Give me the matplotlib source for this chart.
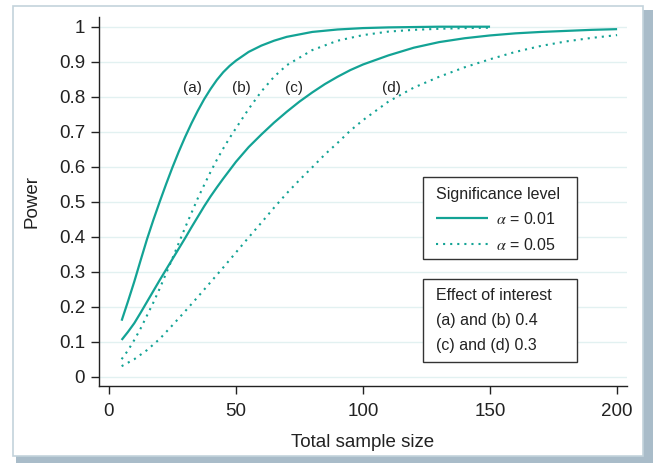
import matplotlib
matplotlib.use("Agg")
import matplotlib.pyplot as plt
from matplotlib.lines import Line2D
from matplotlib.patches import Rectangle
from matplotlib.transforms import Affine2D

plt.rcParams['font.family'] = ['Liberation Sans', 'DejaVu Sans']
plt.rcParams['mathtext.fontset'] = 'stix'

# ---- data ----
n_ab = [5, 7.5, 10, 12.5, 15, 17.5, 20, 22.5, 25, 27.5, 30, 32.5, 35, 37.5, 40, 42.5, 45, 47.5,
        50, 55, 60, 65, 70, 80, 90, 100, 110, 120, 130, 140, 150]
power_a = [0.16, 0.215, 0.272, 0.333, 0.393, 0.448, 0.50, 0.55, 0.598, 0.643, 0.685, 0.724,
           0.76, 0.793, 0.822, 0.848, 0.87, 0.888, 0.903, 0.928, 0.946, 0.96, 0.971, 0.985,
           0.992, 0.996, 0.998, 0.999, 1.0, 1.0, 1.0]
power_b = [0.05, 0.075, 0.105, 0.138, 0.175, 0.212, 0.252, 0.295, 0.338, 0.382, 0.426, 0.468,
           0.51, 0.548, 0.585, 0.62, 0.652, 0.682, 0.71, 0.765, 0.815, 0.857, 0.89, 0.933,
           0.96, 0.976, 0.986, 0.991, 0.994, 0.996, 0.997]
n_c = [5, 7.5, 10, 12.5, 15, 17.5, 20, 22.5, 25, 27.5, 30, 32.5, 35, 37.5, 40, 42.5, 45, 47.5,
       50, 55, 60, 65, 70, 75, 80, 85, 90, 95, 100, 110, 120, 130, 140, 150, 160, 170, 180,
       190, 200]
power_c = [0.105, 0.128, 0.153, 0.183, 0.214, 0.245, 0.276, 0.306, 0.336, 0.366, 0.396, 0.427,
           0.457, 0.487, 0.515, 0.541, 0.566, 0.59, 0.614, 0.656, 0.692, 0.726, 0.757, 0.786,
           0.812, 0.836, 0.857, 0.876, 0.892, 0.918, 0.94, 0.956, 0.967, 0.975, 0.981, 0.985,
           0.988, 0.991, 0.993]
n_d = [5, 10, 15, 20, 25, 30, 35, 40, 45, 50, 55, 60, 65, 70, 75, 80, 85, 90, 95, 100, 110,
       120, 130, 140, 150, 160, 170, 180, 190, 200]
power_d = [0.03, 0.05, 0.076, 0.108, 0.147, 0.187, 0.228, 0.27, 0.312, 0.355, 0.398, 0.44,
           0.483, 0.524, 0.562, 0.598, 0.635, 0.668, 0.703, 0.733, 0.786, 0.826, 0.857, 0.884,
           0.907, 0.928, 0.945, 0.958, 0.968, 0.976]
curve_labels = ['(a)', '(b)', '(c)', '(d)']
curve_label_x = [33, 52, 73, 111]
curve_label_y = 0.824
x_ticks = [0, 50, 100, 150, 200]
y_ticks = [0, 0.1, 0.2, 0.3, 0.4, 0.5, 0.6, 0.7, 0.8, 0.9, 1]
y_tick_labels = ['0', '0.1', '0.2', '0.3', '0.4', '0.5', '0.6', '0.7', '0.8', '0.9', '1']
sig_title = 'Significance level'
sig_labels = [r'$\alpha$ = 0.01', r'$\alpha$ = 0.05']
eff_title = 'Effect of interest'
eff_labels = ['(a) and (b) 0.4', '(c) and (d) 0.3']

TEAL = '#13a395'
TXT = '#222222'
W, H = 653, 463

fig = plt.figure(figsize=(W / 100, H / 100), dpi=100)
fig.patch.set_facecolor('white')
px = Affine2D().scale(1 / W, -1 / H).translate(0, 1) + fig.transFigure

# outer frame with shadow
fig.patches.append(Rectangle((16, 10), 637, 453, transform=px, facecolor='#a9bcc9',
                             edgecolor='none', zorder=0))
fig.patches.append(Rectangle((13, 6), 630, 450, transform=px, facecolor='white',
                             edgecolor='#c3d3dc', linewidth=1.2, zorder=1))

ax = fig.add_axes([99 / W, 1 - 386 / H, (627 - 99) / W, (386 - 17) / H])
ax.set_zorder(2)
ax.patch.set_alpha(0)

solid = dict(color=TEAL, linewidth=1.6, solid_capstyle='butt', solid_joinstyle='round')
dotted = dict(color=TEAL, linewidth=1.5, linestyle=(0, (1, 2.4)))
ax.plot(n_ab, power_a, **solid)
ax.plot(n_ab, power_b, **dotted)
ax.plot(n_c, power_c, **solid)
ax.plot(n_d, power_d, **dotted)

for lab, lx in zip(curve_labels, curve_label_x):
    ax.text(lx, curve_label_y, lab, fontsize=11, color=TXT, ha='center', va='center')

ax.set_xlim(-3.9, 203.9)
ax.set_ylim(-0.0266, 1.0277)
ax.set_xticks(x_ticks)
ax.set_yticks(y_ticks)
ax.set_yticklabels(y_tick_labels)
ax.grid(axis='y', color='#e2f1f1', linewidth=1.0)
ax.set_axisbelow(True)
for s in ['top', 'right']:
    ax.spines[s].set_visible(False)
for s in ['left', 'bottom']:
    ax.spines[s].set_color('#222222')
    ax.spines[s].set_linewidth(1.0)
ax.tick_params(axis='both', direction='out', length=5.5, width=1.0, color='#222222',
               labelsize=13.5, labelcolor=TXT)
ax.tick_params(axis='x', pad=6.7)
ax.tick_params(axis='y', pad=4.5)
ax.set_xlabel('Total sample size', fontsize=13.5, color=TXT, labelpad=10)
ax.set_ylabel('Power', fontsize=13.5, color=TXT, labelpad=13)

# legend boxes (frames)
ax.add_patch(Rectangle((423.3, 176.7), 153.4, 82.6, transform=px, facecolor='white',
                       edgecolor='#333333', linewidth=1.0, zorder=3, clip_on=False))
ax.add_patch(Rectangle((423.3, 278.7), 153.4, 83.0, transform=px, facecolor='white',
                       edgecolor='#333333', linewidth=1.0, zorder=3, clip_on=False))

handles = [Line2D([], [], **solid), Line2D([], [], **dotted)]
leg1 = ax.legend(handles, sig_labels, title=sig_title, loc='upper left',
                 bbox_to_anchor=(435.7 / W, 1 - 186.5 / H), bbox_transform=fig.transFigure,
                 frameon=False, borderpad=0, borderaxespad=0, fontsize=11.5,
                 title_fontsize=11.5, handlelength=3.3, handletextpad=0.45,
                 labelspacing=0.6, alignment='left', labelcolor=TXT)
leg1.get_title().set_color(TXT)
leg1.set_zorder(5)
ax.add_artist(leg1)

blank = [Line2D([], [], linewidth=0), Line2D([], [], linewidth=0)]
leg2 = ax.legend(blank, eff_labels, title=eff_title, loc='upper left',
                 bbox_to_anchor=(435.7 / W, 1 - 288.5 / H), bbox_transform=fig.transFigure,
                 frameon=False, borderpad=0, borderaxespad=0, fontsize=11.5,
                 title_fontsize=11.5, handlelength=0, handletextpad=0,
                 labelspacing=0.6, alignment='left', labelcolor=TXT)
leg2.get_title().set_color(TXT)
leg2.set_zorder(5)

fig.savefig('out.png', dpi=100, facecolor='white')
